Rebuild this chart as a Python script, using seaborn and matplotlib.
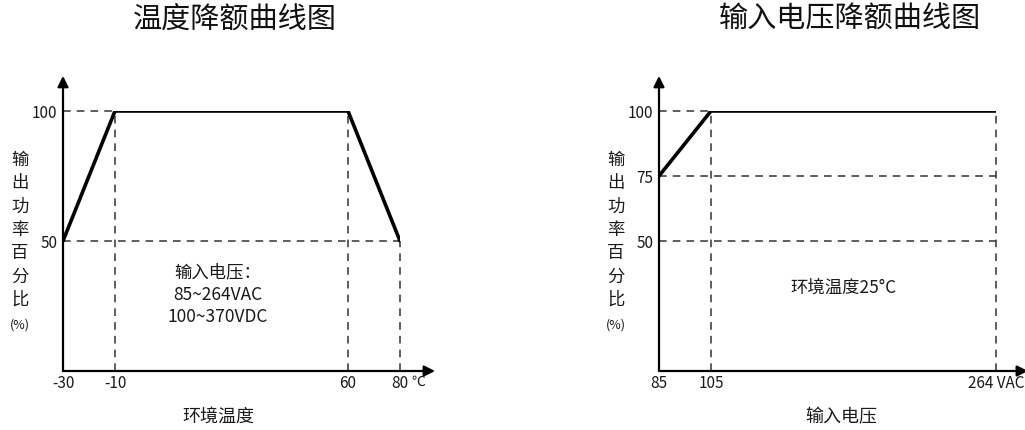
import numpy as np
import matplotlib
matplotlib.use('Agg')
import matplotlib.pyplot as plt
import seaborn as sns

# 温度降额曲线
temp_x = [-30, -10, 60, 80]
temp_y = [50, 100, 100, 50]
temp_yticks = [100, 50]
temp_xlabels = ['-30', '-10', '60', '80']

# 输入电压降额曲线
volt_x = [85, 105, 264]
volt_y = [75, 100, 100]
volt_yticks = [100, 75, 50]
volt_xlabels = ['85', '105', '264 VAC']

sns.set_style('white')
plt.rcParams['font.family'] = ['Noto Sans CJK SC', 'DejaVu Sans']
plt.rcParams['axes.unicode_minus'] = False

COR_TXT = '#1a1a1a'


def escala_por_partes(pontos, espacos):
    # escala linear por trechos (o desenho original nao e proporcional)
    xs = np.array(pontos, float)
    ps = np.concatenate([[0], np.cumsum(espacos)]).astype(float)
    k0 = (ps[1] - ps[0]) / (xs[1] - xs[0])
    k1 = (ps[-1] - ps[-2]) / (xs[-1] - xs[-2])
    xs = np.concatenate([[xs[0] - 1e4], xs, [xs[-1] + 1e4]])
    ps = np.concatenate([[ps[0] - 1e4 * k0], ps, [ps[-1] + 1e4 * k1]])

    def fwd(v):
        return np.interp(v, xs, ps)

    def inv(v):
        return np.interp(v, ps, xs)
    return fwd, inv


def painel(ax, x, y, espacos, yticks, xlabels, titulo, xlabel,
           titulo_x, xlabel_x, seta_x):
    ax.set_xscale('function', functions=escala_por_partes(x, espacos))
    sns.lineplot(x=x, y=y, ax=ax, color='black', lw=2.6, sort=False)
    ax.set_xlim(x[0], x[-1])
    ax.set_ylim(0, 100)

    # linhas de referencia tracejadas
    for v in yticks:
        ax.hlines(v, x[0], x[-1] if v < 100 else x[1], colors='#333333',
                  linestyles=(0, (5, 4)), lw=1.1, zorder=1, clip_on=False)
    for xi, yi in zip(x[1:], y[1:]):
        ax.vlines(xi, 0, yi, colors='#333333', linestyles=(0, (5, 4)),
                  lw=1.1, zorder=1, clip_on=False)

    for s in ax.spines.values():
        s.set_visible(False)
    seta = dict(arrowstyle='-|>', color='black', lw=1.6, mutation_scale=16,
                shrinkA=0, shrinkB=0)
    ax.annotate('', xy=(seta_x, 0), xytext=(0, 0), xycoords='axes fraction',
                arrowprops=seta, annotation_clip=False)
    ax.annotate('', xy=(0, 1.135), xytext=(0, 0), xycoords='axes fraction',
                arrowprops=seta, annotation_clip=False)

    ax.set_xticks(x)
    ax.set_xticklabels(xlabels)
    ax.set_yticks(yticks)
    ax.set_yticklabels([str(v) for v in yticks])
    ax.xaxis.set_minor_locator(plt.NullLocator())
    ax.tick_params(length=0, labelsize=11, colors=COR_TXT)
    ax.tick_params(axis='x', pad=2)
    ax.tick_params(axis='y', pad=4)
    ax.grid(False)
    ax.set_xlabel('')
    ax.set_ylabel('')

    ax.text(titulo_x, 1.355, titulo, transform=ax.transAxes, ha='center',
            va='center', fontsize=21, fontweight='medium', color='#111111')
    ax.text(xlabel_x, -0.173, xlabel, transform=ax.transAxes, ha='center',
            va='center', fontsize=13, fontweight='medium', color=COR_TXT)

    for i, ch in enumerate('输出功率百分比'):
        ax.text(-0.128, 0.815 - i * 0.0897, ch, transform=ax.transAxes,
                ha='center', va='center', fontsize=12.5, fontweight='medium',
                color=COR_TXT)
    ax.text(-0.128, 0.181, '(%)', transform=ax.transAxes, ha='center',
            va='center', fontsize=9, color=COR_TXT)


fig = plt.figure(figsize=(10.25, 4.31), dpi=100)
ax1 = fig.add_axes([63 / 1025, 59 / 431, 337 / 1025, 260 / 431])
ax2 = fig.add_axes([659 / 1025, 59 / 431, 337 / 1025, 260 / 431])

painel(ax1, temp_x, temp_y, [52, 233, 52], temp_yticks, temp_xlabels,
       '温度降额曲线图', '环境温度', 0.51, 0.46, 1.104)
painel(ax2, volt_x, volt_y, [52, 285], volt_yticks, volt_xlabels,
       '输入电压降额曲线图', '输入电压', 0.567, 0.54, 1.095)

# unidade ao lado do ultimo rotulo de temperatura
ax1.text(1.053, -0.012, '℃', transform=ax1.transAxes, ha='center',
         va='top', fontsize=10, color=COR_TXT)

ax1.text(0.46, 0.385, '输入电压：', transform=ax1.transAxes, ha='center',
         va='center', fontsize=12.5, fontweight='medium', color=COR_TXT)
ax1.text(0.46, 0.296, '85~264VAC', transform=ax1.transAxes, ha='center',
         va='center', fontsize=12.5, fontweight='medium', color=COR_TXT)
ax1.text(0.46, 0.212, '100~370VDC', transform=ax1.transAxes, ha='center',
         va='center', fontsize=12.5, fontweight='medium', color=COR_TXT)
ax2.text(0.546, 0.323, '环境温度25°C', transform=ax2.transAxes, ha='center',
         va='center', fontsize=12.5, fontweight='medium', color=COR_TXT)

fig.savefig('out.png', dpi=100)
